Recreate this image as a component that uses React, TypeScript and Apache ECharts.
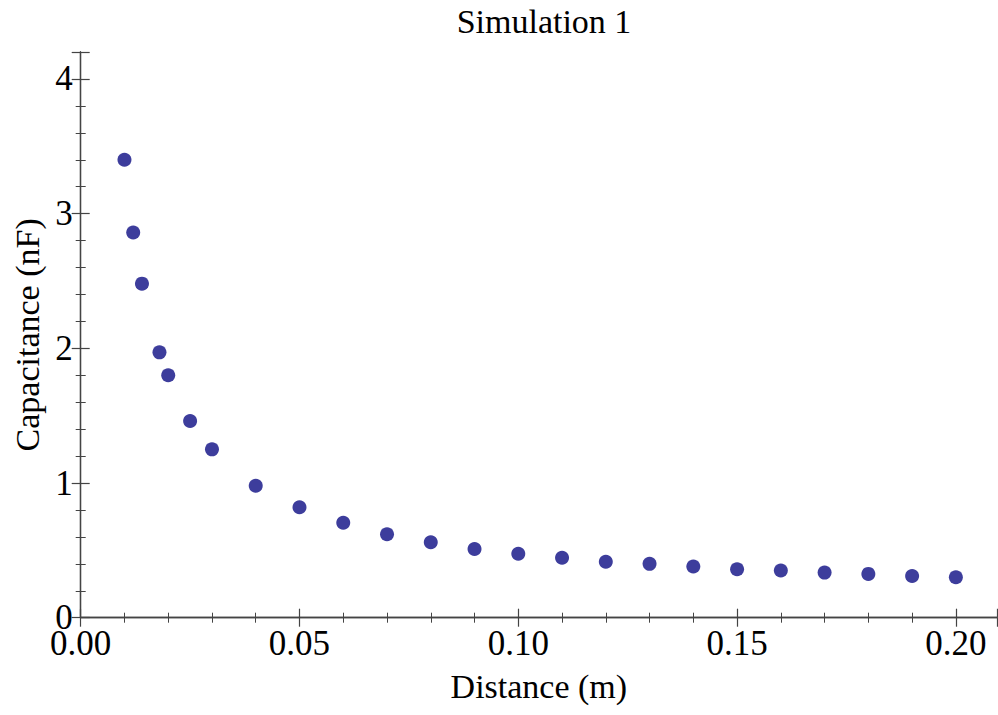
import React, { useEffect, useRef } from "react";
import * as echarts from "echarts";

const distances = [0.01, 0.012, 0.014, 0.018, 0.02, 0.025, 0.03, 0.04, 0.05, 0.06, 0.07, 0.08, 0.09, 0.10, 0.11, 0.12, 0.13, 0.14, 0.15, 0.16, 0.17, 0.18, 0.19, 0.20];
const capacitances = [3.40, 2.86, 2.48, 1.97, 1.80, 1.46, 1.25, 0.98, 0.82, 0.705, 0.62, 0.56, 0.51, 0.475, 0.445, 0.415, 0.40, 0.38, 0.36, 0.35, 0.335, 0.325, 0.31, 0.30];
const xTicks = [0, 0.05, 0.1, 0.15, 0.2];
const yTicks = [0, 1, 2, 3, 4];

const FONT = "'Liberation Serif', 'Times New Roman', serif";

export default function App() {
  const ref = useRef<HTMLDivElement>(null);
  useEffect(() => {
    if (!ref.current) return;
    const chart = echarts.init(ref.current, null, { renderer: "svg" });
    const axisLine = { show: true, lineStyle: { color: "#444", width: 1.3 } };
    const tick = { show: true, inside: true, length: 9, lineStyle: { color: "#444", width: 1.2 } };
    const minor = { show: true, splitNumber: 5, length: 5, lineStyle: { color: "#444", width: 1 } };
    const xMax = 0.2094;
    const yMax = 4.2;
    chart.setOption({
      animation: false,
      backgroundColor: "#fff",
      title: {
        text: "Simulation 1",
        left: 539,
        textAlign: "center",
        top: -1,
        textStyle: { fontFamily: FONT, fontSize: 34, fontWeight: "normal", color: "#000" },
      },
      grid: { left: 80.7, right: 1, top: 52, bottom: 97.3, containLabel: false, outerBoundsMode: "none" },
      xAxis: [
        {
          type: "value",
          min: 0,
          max: xMax,
          interval: 0.05,
          position: "bottom",
          name: "Distance (m)",
          nameLocation: "middle",
          nameGap: 52,
          nameTextStyle: { fontFamily: FONT, fontSize: 34, color: "#000" },
          axisLine,
          axisTick: tick,
          minorTick: minor,
          splitLine: { show: false },
          axisLabel: {
            showMaxLabel: false,
            fontFamily: FONT,
            fontSize: 35,
            color: "#000",
            margin: 8,
            formatter: (v: number) => (xTicks.some((t) => Math.abs(t - v) < 1e-9) ? v.toFixed(2) : ""),
          },
        },
        {
          type: "value",
          min: 0,
          max: xMax,
          interval: 0.05,
          position: "top",
          axisLine,
          axisTick: tick,
          minorTick: minor,
          splitLine: { show: false },
          axisLabel: { show: false },
        },
      ],
      yAxis: [
        {
          type: "value",
          min: 0,
          max: yMax,
          interval: 1,
          position: "left",
          name: "Capacitance (nF)",
          nameLocation: "middle",
          nameGap: 31,
          nameTextStyle: { fontFamily: FONT, fontSize: 34, color: "#000" },
          axisLine,
          axisTick: tick,
          minorTick: minor,
          splitLine: { show: false },
          axisLabel: {
            showMaxLabel: false,
            fontFamily: FONT,
            fontSize: 35,
            color: "#000",
            margin: 8,
            formatter: (v: number) => (yTicks.some((t) => Math.abs(t - v) < 1e-9) ? String(v) : ""),
          },
        },
        {
          type: "value",
          min: 0,
          max: yMax,
          interval: 1,
          position: "right",
          axisLine,
          axisTick: tick,
          minorTick: minor,
          splitLine: { show: false },
          axisLabel: { show: false },
        },
      ],
      series: [
        {
          type: "scatter",
          xAxisIndex: 0,
          yAxisIndex: 0,
          symbol: "circle",
          symbolSize: 14,
          itemStyle: { color: "#3d3d9c", opacity: 1 },
          data: distances.map((d, i) => [d, capacitances[i]]),
        },
      ],
    });
    return () => chart.dispose();
  }, []);
  return <div ref={ref} style={{ width: 998, height: 715, position: "absolute", left: 0, top: 0 }} />;
}
